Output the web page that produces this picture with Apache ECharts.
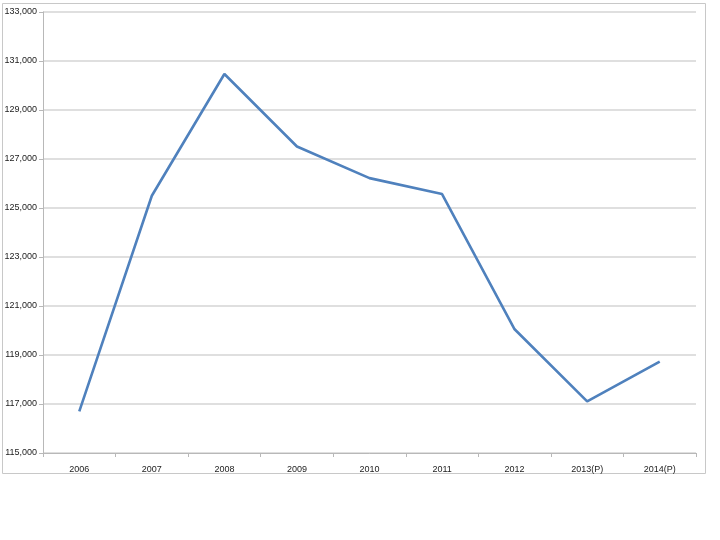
<!DOCTYPE html>
<html>
<head>
<meta charset="utf-8">
<script src="https://cdn.jsdelivr.net/npm/echarts@6/dist/echarts.min.js"></script>
<style>html,body{margin:0;padding:0;background:#fff;}#c{width:720px;height:540px;}</style>
</head>
<body>
<div id="c"></div>
<script>
var categories = ['2006','2007','2008','2009','2010','2011','2012','2013(P)','2014(P)'];
var values = [116700, 125500, 130470, 127510, 126220, 125570, 120050, 117110, 118730];

var chart = echarts.init(document.getElementById('c'), null, {renderer:'canvas'});
chart.setOption({
  animation: false,
  backgroundColor: '#fff',
  graphic: [{
    type: 'rect', shape: {x: 2.5, y: 3.5, width: 703, height: 470},
    style: {fill: 'none', stroke: '#c8c8c8', lineWidth: 1}, silent: true, z: -1
  }],
  grid: {left: 43, right: 24, top: 12, bottom: 87, containLabel: false},
  xAxis: {
    type: 'category', data: categories, boundaryGap: true,
    axisLine: {lineStyle: {color: '#b8b8b8', width: 1}},
    axisTick: {show: true, length: 4, inside: false, lineStyle: {color: '#b8b8b8'}},
    axisLabel: {color: '#222', fontSize: 9, fontFamily: 'Liberation Sans, Arial', margin: 12}
  },
  yAxis: {
    type: 'value', min: 115000, max: 133000, interval: 2000,
    axisLine: {show: true, lineStyle: {color: '#b8b8b8', width: 1}},
    axisTick: {show: true, length: 4, lineStyle: {color: '#b8b8b8'}},
    splitLine: {lineStyle: {color: '#d4d4d4', width: 1.5}},
    axisLabel: {color: '#222', fontSize: 9, fontFamily: 'Liberation Sans, Arial', margin: 6,
      formatter: function(v){ return v.toLocaleString('en-US'); }}
  },
  series: [{
    type: 'line', data: values, symbol: 'none',
    lineStyle: {color: '#4F81BD', width: 2.6},
    itemStyle: {color: '#4F81BD'}
  }]
});
</script>
</body>
</html>
